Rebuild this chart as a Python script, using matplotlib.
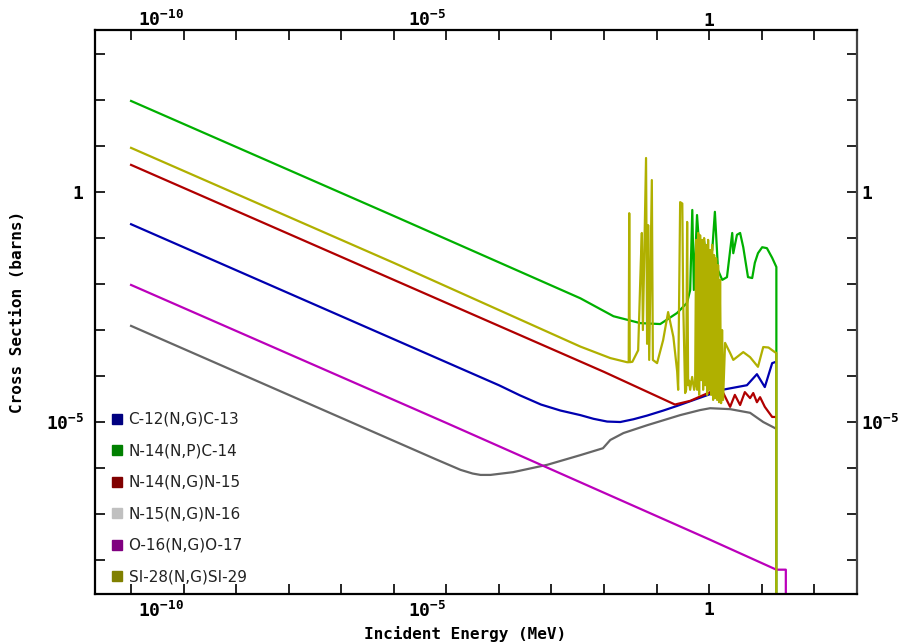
import numpy as np
import matplotlib
matplotlib.use("Agg")
import matplotlib.pyplot as plt
from matplotlib.lines import Line2D
from matplotlib.ticker import FixedLocator, NullLocator
from matplotlib.transforms import ScaledTranslation

# values, as log10(E / MeV) and log10(sigma / barns)
c12_loge = [-11, -8, -6, -4, -3.6, -3.2, -2.83, -2.45, -2.2, -1.94, -1.69, -1.44, -1.18, -0.87, -0.61,
            0.25, 0.72, 0.91, 1.06, 1.20, 1.25]
c12_logxs = [-0.70, -2.20, -3.20, -4.20, -4.42, -4.62, -4.75, -4.85, -4.93, -4.99, -5.00, -4.94, -4.86, -4.75, -4.65,
             -4.30, -4.20, -3.96, -4.24, -3.72, -3.70]

n14p_loge = [-11, -6, -2.45, -1.82, -1.31, -0.93, -0.61, -0.42, -0.36, -0.32, -0.29, -0.23, -0.17,
             -0.10, -0.02, 0.06, 0.11, 0.17, 0.25, 0.34, 0.44, 0.46, 0.53, 0.59, 0.65, 0.74, 0.82,
             0.87, 0.93, 1.01, 1.10, 1.20, 1.28, 1.28]
n14p_logxs = [1.98, -0.52, -2.31, -2.70, -2.85, -2.87, -2.63, -2.41, -2.13, -0.39, -2.13, -0.50, -1.48,
              -1.04, -1.59, -1.26, -0.43, -1.70, -1.91, -1.85, -0.89, -1.33, -0.93, -0.89, -1.20, -1.85, -1.87,
              -1.54, -1.33, -1.20, -1.22, -1.43, -1.63, -20]

n14g_loge = [-11, -6, -2, -0.65, -0.36, 0.06, 0.27, 0.40, 0.49, 0.59, 0.68, 0.78, 0.84, 0.91, 0.97, 1.06, 1.20, 1.25]
n14g_logxs = [0.59, -1.91, -3.91, -4.62, -4.54, -4.33, -4.37, -4.67, -4.41, -4.63, -4.35, -4.48, -4.37, -4.57,
              -4.46, -4.67, -4.89, -4.89]

n15g_loge = [-11, -8, -6, -5.2, -4.73, -4.5, -4.35, -4.16, -3.73, -3.08, -2.45, -2.02, -1.88, -1.63, -1.18,
             -0.55, -0.17, 0.02, 0.40, 0.78, 1.03, 1.25]
n15g_logxs = [-2.91, -4.41, -5.41, -5.81, -6.04, -6.12, -6.15, -6.15, -6.09, -5.93, -5.72, -5.57, -5.39, -5.24,
              -5.07, -4.85, -4.74, -4.70, -4.72, -4.80, -5.00, -5.13]

o16g_loge = [-11, -5, 0, 1.28, 1.46, 1.46]
o16g_logxs = [-2.02, -5.02, -7.55, -8.21, -8.21, -20]

si28_loge = [-11, -6, -2.45, -1.88, -1.56, -1.53, -1.52, -1.51, -1.46, -1.35, -1.30, -1.28, -1.26, -1.20,
             -1.18, -1.16, -1.14, -1.09, -1.07, -0.99, -0.875, -0.78, -0.68, -0.608, -0.589, -0.551, -0.51,
             -0.494, -0.456, -0.437, -0.418, -0.399, -0.380, -0.361, -0.323, -0.285, -0.266, -0.247, -0.228,
             -0.209, -0.190, -0.171, -0.152, -0.133, -0.114, -0.095, -0.076, -0.057, -0.038, -0.019, 0.0,
             0.019, 0.038, 0.057, 0.076, 0.095, 0.114, 0.133, 0.152, 0.171, 0.190, 0.209, 0.228, 0.247,
             0.266, 0.304, 0.40, 0.46, 0.65, 0.78, 0.93, 1.03, 1.13, 1.25, 1.28, 1.28]
si28_logxs = [0.96, -1.54, -3.36, -3.61, -3.70, -3.70, -0.46, -3.70, -3.69, -3.44, -1.54, -0.89, -3.00, 0.74,
              -3.30, -0.72, -3.65, 0.26, -3.65, -3.72, -3.22, -2.61, -3.15, -3.90, -4.30, -0.22, -0.25,
              -2.35, -4.37, -4.30, -0.65, -4.20, -4.10, -4.30, -4.02, -4.30, -4.20, -1.04, -4.30,
              -0.89, -4.41, -0.94, -4.09, -1.04, -4.30, -1.00, -4.20, -1.15, -4.41, -1.04, -4.30,
              -1.26, -4.41, -1.15, -4.52, -1.37, -4.48, -1.44, -4.52, -1.59, -4.57, -1.91, -4.59, -3.00,
              -4.52, -3.28, -3.50, -3.65, -3.48, -3.59, -3.80, -3.37, -3.38, -3.48, -3.50, -20]

labels = ["C-12(N,G)C-13", "N-14(N,P)C-14", "N-14(N,G)N-15", "N-15(N,G)N-16", "O-16(N,G)O-17", "SI-28(N,G)SI-29"]
line_colors = ["#0000b0", "#00b000", "#b00000", "#666666", "#bb00bb", "#b0b000"]
swatch_colors = ["#000080", "#008000", "#800000", "#c0c0c0", "#800080", "#808000"]

series = [(c12_loge, c12_logxs), (n14p_loge, n14p_logxs), (n14g_loge, n14g_logxs),
          (n15g_loge, n15g_logxs), (o16g_loge, o16g_logxs), (si28_loge, si28_logxs)]

plt.rcParams["mathtext.fontset"] = "custom"
plt.rcParams["mathtext.rm"] = "DejaVu Sans Mono"
plt.rcParams["mathtext.bf"] = "DejaVu Sans Mono:bold"

fig = plt.figure(figsize=(9.11, 6.43), dpi=100)
ax = fig.add_axes([0.1043, 0.0762, 0.8364, 0.8771])

for (le, lx), c in zip(series, line_colors):
    ax.plot(10 ** np.array(le, dtype=float), 10 ** np.array(lx, dtype=float), color=c, lw=1.6)

ax.set_xscale("log")
ax.set_yscale("log")
ax.set_xlim(10 ** -11.686, 10 ** 2.814)
ax.set_ylim(10 ** -8.739, 10 ** 3.522)

xt = [10.0 ** k for k in range(-11, 3)]
yt = [10.0 ** k for k in range(-8, 4)]
ax.xaxis.set_major_locator(FixedLocator(xt))
ax.yaxis.set_major_locator(FixedLocator(yt))
ax.xaxis.set_minor_locator(NullLocator())
ax.yaxis.set_minor_locator(NullLocator())


def fmt(v):
    k = int(round(np.log10(v)))
    if k == 0:
        return r"$\mathbf{1}$"
    if k in (-10, -5):
        return r"$\mathbf{10^{%d}}$" % k
    return ""


ax.set_xticklabels([fmt(v) for v in xt])
ax.set_yticklabels([fmt(v) for v in yt])
ax.tick_params(which="both", direction="in", length=7, width=1.2, top=True, right=True,
               labeltop=True, labelright=True, labelsize=13, pad=3)
ax.tick_params(axis="x", pad=5)

# the exponent labels sit left of their tick in the original
down = ScaledTranslation(0, -5 / 72, fig.dpi_scale_trans)
for tick in ax.xaxis.get_major_ticks():
    for lab in (tick.label1, tick.label2):
        if "10" in lab.get_text():
            lab.set_horizontalalignment("right")
    tick.label2.set_transform(tick.label2.get_transform() + down)
shift = ScaledTranslation(-5 / 72, 0, fig.dpi_scale_trans)
for tick in ax.yaxis.get_major_ticks():
    tick.label1.set_transform(tick.label1.get_transform() + shift)

for s in ax.spines.values():
    s.set_linewidth(1.6)
ax.spines["right"].set_color("#444444")

ax.set_xlabel("Incident Energy (MeV)", family="DejaVu Sans Mono", weight="bold", fontsize=11.5)
ax.set_ylabel("Cross Section (barns)", family="DejaVu Sans Mono", weight="bold", fontsize=11.5)
ax.xaxis.set_label_coords(0.486, -0.056)
ax.yaxis.set_label_coords(-0.092, 0.5)

handles = [Line2D([], [], marker="s", linestyle="none", color=c, markersize=6.5) for c in swatch_colors]
leg = ax.legend(handles, labels, loc="lower left", bbox_to_anchor=(0.021, 0.017), frameon=False,
                fontsize=11, labelspacing=1.08, handlelength=0.8, handletextpad=0.35, borderpad=0,
                borderaxespad=0)
for t in leg.get_texts():
    t.set_color("#222222")

fig.savefig("out.png", dpi=100)
